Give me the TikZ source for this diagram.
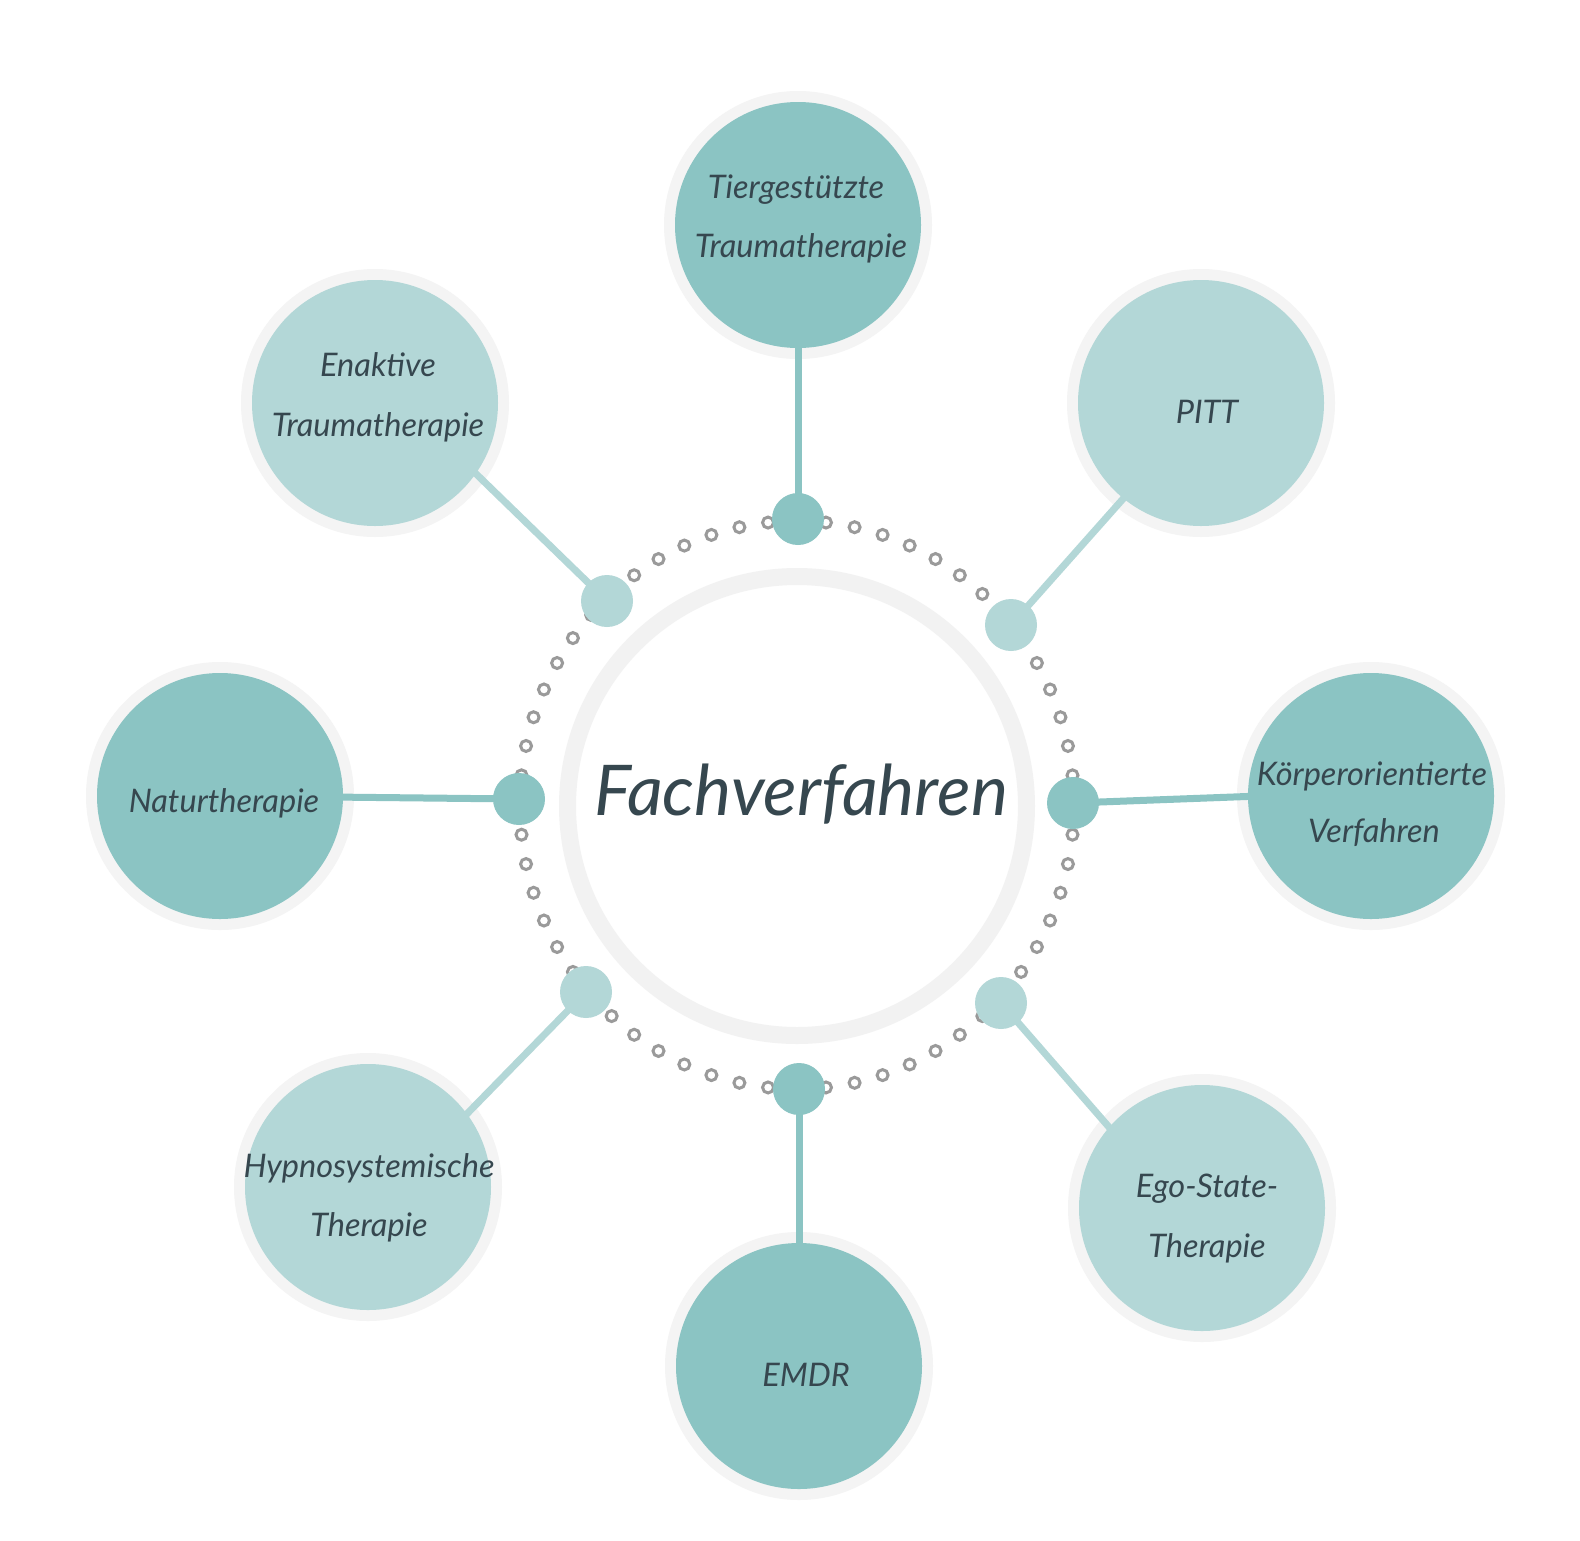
\documentclass[tikz,border=0pt]{standalone}
\usepackage{fontspec}
\newfontfamily\handfont{Lato}
\definecolor{tealD}{HTML}{8BC4C3}
\definecolor{tealL}{HTML}{B3D7D7}
\definecolor{ringG}{HTML}{F4F4F4}
\definecolor{hubG}{HTML}{F2F2F2}
\definecolor{txt}{HTML}{36474F}
\definecolor{dotG}{HTML}{9A9A9A}
\tikzset{
  halo/.style={circle, fill=ringG, minimum size=268pt, inner sep=0pt, outer sep=0pt},
  bigD/.style={circle, fill=tealD, minimum size=246pt, inner sep=0pt, outer sep=0pt},
  bigL/.style={circle, fill=tealL, minimum size=246pt, inner sep=0pt, outer sep=0pt},
  hubD/.style={circle, fill=tealD, minimum size=52pt, inner sep=0pt, outer sep=0pt},
  hubL/.style={circle, fill=tealL, minimum size=52pt, inner sep=0pt, outer sep=0pt},
  linkD/.style={draw=tealD, line width=7pt},
  linkL/.style={draw=tealL, line width=7pt},
  lbl/.style={font=\handfont\itshape\fontsize{32.5}{38}\selectfont, text=txt, anchor=base, inner sep=0pt},
  titlelbl/.style={font=\handfont\itshape\fontsize{70}{82}\selectfont, text=txt, anchor=base, inner sep=0pt},
  dotc/.style={circle, draw=dotG, line width=3pt, minimum size=11pt, inner sep=0pt},
  centre/.style={circle, draw=hubG, fill=white, line width=17pt, minimum size=459pt, inner sep=0pt}
}
\begin{document}
\begin{tikzpicture}[x=1pt,y=-1pt]
\useasboundingbox[fill=white] (0,0) rectangle (1580,1540);
% dotted ring
\foreach \a in {0,6,...,354}
  \node[dotc] (dot\a) at ({797+277*cos(\a)},{805-284*sin(\a)}) {};
% centre
\node[centre] (core) at (797,806) {};
\node[titlelbl] (coretext) at (801,815) {Fachverfahren};
% halos
\node[halo] (tierH) at (798,225) {};
\node[halo] (pittH) at (1201,403) {};
\node[halo] (koerpH) at (1371,796) {};
\node[halo] (egoH) at (1202,1208) {};
\node[halo] (emdrH) at (799,1366) {};
\node[halo] (hypnoH) at (368,1187) {};
\node[halo] (naturH) at (220,796) {};
\node[halo] (enakH) at (375,403) {};
% hub positions
\coordinate (tierS) at (798,519);
\coordinate (pittS) at (1011,625);
\coordinate (koerpS) at (1073,803);
\coordinate (egoS) at (1001,1003);
\coordinate (emdrS) at (799,1089);
\coordinate (hypnoS) at (586,992);
\coordinate (naturS) at (519,799);
\coordinate (enakS) at (607,601);
% link ends inside the big circles
\coordinate (tierE) at (798,330);
\coordinate (pittE) at (1130,491);
\coordinate (koerpE) at (1260,796);
\coordinate (egoE) at (1115,1134);
\coordinate (emdrE) at (799,1255);
\coordinate (hypnoE) at (460,1121);
\coordinate (naturE) at (330,797);
\coordinate (enakE) at (469,467);
% links
\draw[linkD] (tierS) -- (tierE);
\draw[linkL] (pittS) -- (pittE);
\draw[linkD] (koerpS) -- (koerpE);
\draw[linkL] (egoS) -- (egoE);
\draw[linkD] (emdrS) -- (emdrE);
\draw[linkL] (hypnoS) -- (hypnoE);
\draw[linkD] (naturS) -- (naturE);
\draw[linkL] (enakS) -- (enakE);
% big circles
\node[bigD] (tier) at (tierH.center) {};
\node[bigL] (pitt) at (pittH.center) {};
\node[bigD] (koerp) at (koerpH.center) {};
\node[bigL] (ego) at (egoH.center) {};
\node[bigD] (emdr) at (emdrH.center) {};
\node[bigL] (hypno) at (hypnoH.center) {};
\node[bigD] (natur) at (naturH.center) {};
\node[bigL] (enak) at (enakH.center) {};
% small hub circles
\node[hubD] (tierhub) at (tierS) {};
\node[hubL] (pitthub) at (pittS) {};
\node[hubD] (koerphub) at (koerpS) {};
\node[hubL] (egohub) at (egoS) {};
\node[hubD] (emdrhub) at (emdrS) {};
\node[hubL] (hypnohub) at (hypnoS) {};
\node[hubD] (naturhub) at (naturS) {};
\node[hubL] (enakhub) at (enakS) {};
% labels
\node[lbl] (tierA) at (796,198) {Tiergestützte};
\node[lbl] (tierB) at (801,257) {Traumatherapie};
\node[lbl] (enakA) at (378,376) {Enaktive};
\node[lbl] (enakB) at (378,436) {Traumatherapie};
\node[lbl] (pittA) at (1207,423) {PITT};
\node[lbl] (koerpA) at (1372,785) {Körperorientierte};
\node[lbl] (koerpB) at (1374,842) {Verfahren};
\node[lbl] (naturA) at (224,812) {Naturtherapie};
\node[lbl] (hypnoA) at (369,1177) {Hypnosystemische};
\node[lbl] (hypnoB) at (369,1236) {Therapie};
\node[lbl] (emdrA) at (806,1386) {EMDR};
\node[lbl] (egoA) at (1207,1197) {Ego-State-};
\node[lbl] (egoB) at (1207,1257) {Therapie};
\end{tikzpicture}
\end{document}
